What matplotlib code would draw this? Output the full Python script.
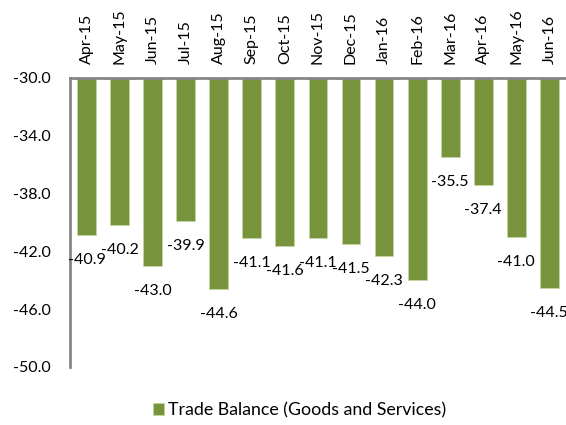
import numpy as np
import matplotlib.pyplot as plt

months = ['Apr-15', 'May-15', 'Jun-15', 'Jul-15', 'Aug-15', 'Sep-15', 'Oct-15', 'Nov-15',
          'Dec-15', 'Jan-16', 'Feb-16', 'Mar-16', 'Apr-16', 'May-16', 'Jun-16']
balance = [-40.9, -40.2, -43.0, -39.9, -44.6, -41.1, -41.6, -41.1,
           -41.5, -42.3, -44.0, -35.5, -37.4, -41.0, -44.5]
yticks = [-50.0, -46.0, -42.0, -38.0, -34.0, -30.0]
base = -30.0

plt.rcParams['font.family'] = ['Lato', 'DejaVu Sans']
plt.rcParams['axes.unicode_minus'] = False

fig = plt.figure(figsize=(5.66, 4.25), dpi=100)
ax = fig.add_axes([0.1237, 0.1365, 0.876, 0.68])

x = np.arange(len(months))
vals = np.array(balance)
bars = ax.bar(x, vals - base, bottom=base, width=0.57, color='#77933C',
              edgecolor='#c5d9a0', linewidth=0.5, label='Trade Balance (Goods and Services)')

for xi, v in zip(x, vals):
    ax.annotate('%.1f' % v, (xi, v), xytext=(0, -18), textcoords='offset points',
                ha='center', va='center', fontsize=11.5)

ax.set_xlim(-0.5, len(months) - 0.5)
ax.set_ylim(-50, -30)
ax.set_yticks(yticks)
ax.set_yticklabels(['%.1f' % t for t in yticks], fontsize=11.5)
ax.xaxis.tick_top()
ax.set_xticks(x)
ax.set_xticklabels(months, rotation=90, fontsize=11.5)
ax.tick_params(axis='both', length=0)
ax.tick_params(axis='x', pad=10)
ax.tick_params(axis='y', pad=14)

for s in ['right', 'bottom']:
    ax.spines[s].set_visible(False)
for s in ['top', 'left']:
    ax.spines[s].set_color('#868686')
    ax.spines[s].set_linewidth(2)

fig.legend(loc='center', bbox_to_anchor=(0.53, 0.035), frameon=False, fontsize=12.8,
           handlelength=0.6, handleheight=0.6, handletextpad=0.25)

fig.savefig('out.png', dpi=100)
